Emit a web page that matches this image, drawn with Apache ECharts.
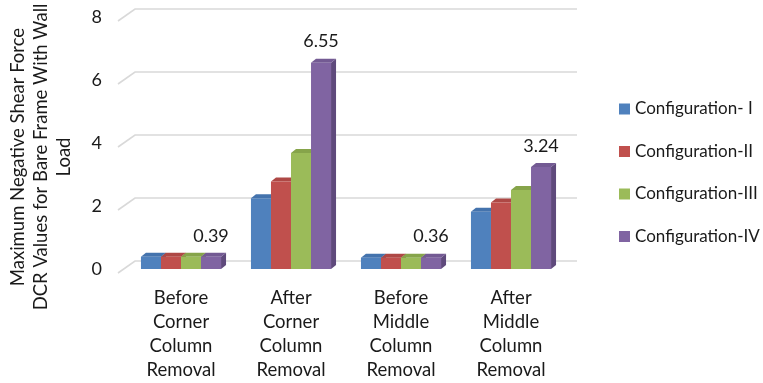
<!DOCTYPE html>
<html>
<head>
<meta charset="utf-8">
<script src="https://cdn.jsdelivr.net/npm/echarts@6/dist/echarts.min.js"></script>
<style>
  html, body { margin: 0; padding: 0; background: #fff; }
  #chart { width: 763px; height: 383px; }
</style>
</head>
<body>
<div id="chart"></div>
<script>
// Shear force DCR values per removal scenario
const categories = [
  'Before\nCorner\nColumn\nRemoval',
  'After\nCorner\nColumn\nRemoval',
  'Before\nMiddle\nColumn\nRemoval',
  'After\nMiddle\nColumn\nRemoval'
];
const seriesNames = ['Configuration- I', 'Configuration-II', 'Configuration-III', 'Configuration-IV'];
const configI   = [0.39, 2.25, 0.36, 1.82];
const configII  = [0.39, 2.78, 0.36, 2.11];
const configIII = [0.39, 3.68, 0.36, 2.51];
const configIV  = [0.39, 6.55, 0.36, 3.24];
const yTicks = [0, 2, 4, 6, 8];

const FONT = 'Lato, "Open Sans", sans-serif';
const TEXT = '#1a1a1a';
// front, top, side shades for each column
const palette = [
  { front: '#4F81BD', top: '#4473AD', side: '#3B6396' },
  { front: '#C0504D', top: '#AE4845', side: '#963D3B' },
  { front: '#9BBB59', top: '#86A44A', side: '#76913F' },
  { front: '#8064A2', top: '#735A93', side: '#5F4A7C' }
];
const seriesData = [configI, configII, configIII, configIV];

// depth of the extruded columns
const DX = 5, DY = 4;

function barRenderer(sIdx) {
  return function (params, api) {
    const i = api.value(0);
    const v = api.value(1);
    const base = api.coord([i, 0]);
    const top = api.coord([i, v]);
    const band = api.size([1, 0])[0];
    const w = band * 0.182;
    const x0 = base[0] - 2 * w + sIdx * w;
    const x1 = x0 + w;
    const yB = base[1];
    const yT = top[1];
    const c = palette[sIdx];
    const children = [
      { type: 'polygon', shape: { points: [[x1, yT], [x1 + DX, yT - DY], [x1 + DX, yB - DY], [x1, yB]] },
        style: { fill: c.side } },
      { type: 'polygon', shape: { points: [[x0, yT], [x0 + DX, yT - DY], [x1 + DX, yT - DY], [x1, yT]] },
        style: { fill: c.top } },
      { type: 'rect', shape: { x: x0, y: yT, width: w, height: yB - yT },
        style: { fill: c.front } }
    ];
    if (sIdx === 3) {
      children.push({
        type: 'text',
        style: {
          text: v.toFixed(2), x: (x0 + x1) / 2, y: yT - 21,
          align: 'center', verticalAlign: 'middle',
          fontSize: 18, fontFamily: FONT, fill: TEXT
        }
      });
    }
    return { type: 'group', children: children };
  };
}

// back-wall gridlines with the floor/side diagonals
function wallRenderer(params, api) {
  const v = api.value(0);
  const cs = params.coordSys;
  const y = api.coord([0, v])[1];
  const left = cs.x;
  const right = cs.x + cs.width;
  return {
    type: 'polyline',
    shape: { points: [[left - 8, y + 4], [left + 9, y - 8], [right + 11, y - 8]] },
    style: { stroke: '#d9d9d9', lineWidth: 1.6, fill: null }
  };
}

const chart = echarts.init(document.getElementById('chart'));

const series = [{
  type: 'custom',
  name: 'wall',
  renderItem: wallRenderer,
  data: yTicks.map(t => [t]),
  encode: { y: 0 },
  silent: true,
  z: 1
}];
seriesData.forEach((arr, s) => {
  series.push({
    type: 'custom',
    name: seriesNames[s],
    renderItem: barRenderer(s),
    itemStyle: { color: palette[s].front },
    data: arr.map((v, i) => [i, v]),
    encode: { x: 0, y: 1 },
    z: 2
  });
});

chart.setOption({
  animation: false,
  backgroundColor: '#ffffff',
  grid: { left: 126, right: 197, top: 17, bottom: 114 },
  legend: {
    data: seriesNames,
    orient: 'vertical',
    left: 614,
    top: 94,
    itemWidth: 11,
    itemHeight: 11,
    itemGap: 22.5,
    icon: 'rect',
    textStyle: { fontSize: 17, fontFamily: FONT, color: TEXT, lineHeight: 20 }
  },
  xAxis: {
    type: 'category',
    data: categories,
    axisLine: { show: false },
    axisTick: { show: false },
    splitLine: { show: false },
    axisLabel: {
      interval: 0, margin: 17, fontSize: 18.5, lineHeight: 24,
      fontFamily: FONT, color: TEXT, align: 'center'
    }
  },
  yAxis: {
    type: 'value',
    min: 0, max: 8, interval: 2,
    axisLine: { show: false },
    axisTick: { show: false },
    splitLine: { show: false },
    axisLabel: {
      margin: 24, fontSize: 18, fontFamily: FONT, color: TEXT,
      padding: [6, 0, 0, 0]
    }
  },
  graphic: [{
    type: 'text',
    x: 41, y: 157,
    rotation: Math.PI / 2,
    style: {
      text: 'Maximum Negative Shear Force\nDCR Values for Bare Frame With Wall\nLoad',
      align: 'center', verticalAlign: 'middle',
      fontSize: 18.5, fontFamily: FONT, lineHeight: 23, fill: TEXT
    }
  }],
  series: series
});
</script>
</body>
</html>
